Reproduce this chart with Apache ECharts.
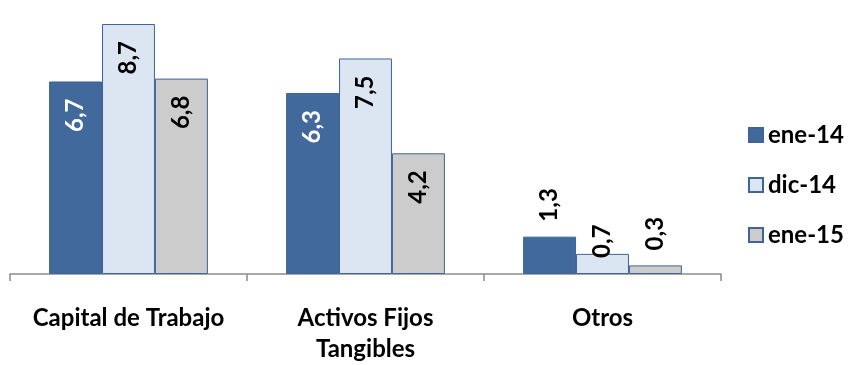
<!DOCTYPE html>
<html>
<head>
<meta charset="utf-8">
<script src="https://cdn.jsdelivr.net/npm/echarts@6/dist/echarts.min.js"></script>
<style>
  html, body { margin: 0; padding: 0; background: #fff; }
  #chart { width: 848px; height: 365px; }
</style>
</head>
<body>
<div id="chart"></div>
<script>
// Categories and values per period
const categories = ['Capital de Trabajo', 'Activos Fijos\nTangibles', 'Otros'];
const seriesNames = ['ene-14', 'dic-14', 'ene-15'];
const ene14 = [6.7, 6.3, 1.3];
const dic14 = [8.7, 7.5, 0.7];
const ene15 = [6.8, 4.2, 0.3];

const FONT = 'Lato, "Open Sans", sans-serif';
const fills = ['#41699B', '#DCE6F2', '#CCCCCC'];
const labelColors = ['#ffffff', '#000000', '#000000'];
const border = '#3E6595';

// Short bars carry their value label above the bar
function buildData(values, si) {
  return values.map(function (v, ci) {
    const outside = v < 2;
    const lbl = outside ? {
      position: 'top',
      align: 'left',
      verticalAlign: 'middle',
      distance: (si === 1 && ci === 2) ? -4 : 15,
      color: '#000000'
    } : {
      position: 'insideTop',
      align: 'right',
      verticalAlign: 'middle',
      distance: 17,
      color: labelColors[si]
    };
    return { value: v, label: lbl };
  });
}

const allValues = [ene14, dic14, ene15];
const series = allValues.map(function (vals, si) {
  return {
    name: seriesNames[si],
    type: 'bar',
    barGap: '0%',
    barCategoryGap: '33%',
    data: buildData(vals, si),
    itemStyle: { color: fills[si], borderColor: border, borderWidth: 1 },
    label: {
      show: true,
      rotate: 90,
      fontFamily: FONT,
      fontWeight: 'bold',
      fontSize: 24,
      formatter: function (p) { return p.value.toFixed(1).replace('.', ','); }
    },
    emphasis: { disabled: true },
    animation: false
  };
});

const chart = echarts.init(document.getElementById('chart'), null, { renderer: 'canvas' });
chart.setOption({
  animation: false,
  grid: { left: 10, right: 127, top: 24, bottom: 88, containLabel: false },
  legend: {
    orient: 'vertical',
    left: 743,
    top: 118,
    itemWidth: 14,
    itemHeight: 14,
    itemGap: 26,
    icon: 'rect',
    textStyle: { fontFamily: FONT, fontWeight: 'bold', fontSize: 24, color: '#000', lineHeight: 24 },
    data: seriesNames
  },
  xAxis: {
    type: 'category',
    data: categories,
    boundaryGap: true,
    axisLine: { lineStyle: { color: '#8C8C8C', width: 1.5 } },
    axisTick: { show: true, length: 7, lineStyle: { color: '#8C8C8C', width: 1.5 } },
    axisLabel: {
      margin: 29,
      interval: 0,
      fontFamily: FONT,
      fontWeight: 'bold',
      fontSize: 24,
      lineHeight: 31,
      color: '#000'
    }
  },
  yAxis: {
    type: 'value',
    min: 0,
    max: 8.7,
    show: false,
    splitLine: { show: false }
  },
  series: series
});
</script>
</body>
</html>
